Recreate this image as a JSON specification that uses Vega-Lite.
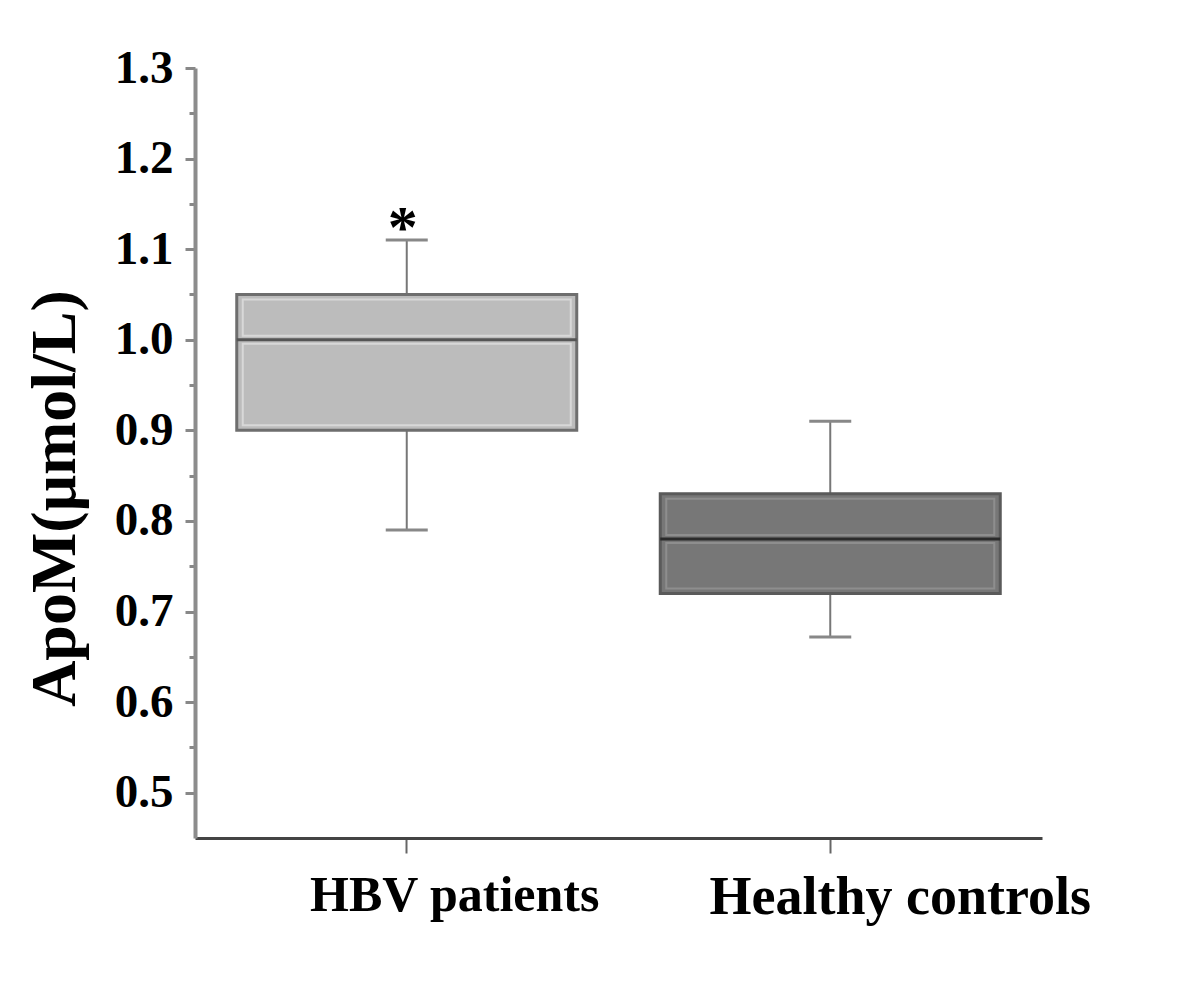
{
  "$schema": "https://vega.github.io/schema/vega-lite/v6.json",
  "width": 847,
  "height": 770,
  "autosize": {"type": "none"},
  "padding": {"left": 195, "top": 68, "right": 158, "bottom": 152},
  "background": "white",
  "config": {"view": {"stroke": null}, "font": "Liberation Serif"},
  "data": {
    "values": [
      {"group": "HBV patients", "lower": 0.79, "q1": 0.9, "median": 1.0, "q3": 1.05, "upper": 1.11, "star": "*"},
      {"group": "Healthy controls", "lower": 0.672, "q1": 0.72, "median": 0.78, "q3": 0.83, "upper": 0.91, "star": ""}
    ]
  },
  "encoding": {
    "x": {
      "field": "group",
      "type": "nominal",
      "sort": ["HBV patients", "Healthy controls"],
      "scale": {"paddingInner": 0, "paddingOuter": 0},
      "axis": {
        "title": null,
        "labelAngle": 0,
        "labelLimit": 0,
        "labelFont": "Liberation Serif",
        "labelFontWeight": "bold",
        "labelFontSize": {"condition": {"test": "datum.value == 'Healthy controls'", "value": 54}, "value": 50},
        "labelOffset": {"condition": {"test": "datum.value == 'Healthy controls'", "value": 70}, "value": 48},
        "labelColor": "#000000",
        "labelPadding": 17,
        "domainColor": "#444444",
        "domainWidth": 3,
        "tickColor": "#666666",
        "tickSize": 15,
        "tickWidth": 2
      }
    }
  },
  "layer": [
    {
      "mark": {"type": "rule", "color": "#777777", "strokeWidth": 2},
      "encoding": {
        "y": {
          "field": "lower",
          "type": "quantitative",
          "scale": {"domain": [0.45, 1.3], "nice": false, "zero": false},
          "axis": {
            "title": "ApoM(μmol/L)",
            "titleFont": "Liberation Serif",
            "titleFontWeight": "bold",
            "titleFontSize": 64,
            "titleColor": "#000000",
            "titleAngle": -90,
            "titleX": -140,
            "titleY": 430,
            "titleAlign": "center",
            "titleBaseline": "middle",
            "values": [0.5, 0.55, 0.6, 0.65, 0.7, 0.75, 0.8, 0.85, 0.9, 0.95, 1.0, 1.05, 1.1, 1.15, 1.2, 1.25, 1.3],
            "labelExpr": "abs(round(datum.value*10) - datum.value*10) < 0.001 ? format(datum.value, '.1f') : ''",
            "labelFont": "Liberation Serif",
            "labelFontWeight": "bold",
            "labelFontSize": 47,
            "labelColor": "#000000",
            "labelPadding": 12,
            "labelBaseline": "middle",
            "tickSize": {"condition": {"test": "abs(round(datum.value*10) - datum.value*10) < 0.001", "value": 10}, "value": 6},
            "tickColor": "#888888",
            "tickWidth": 3,
            "domainColor": "#8c8c8c",
            "domainWidth": 4,
            "grid": false
          }
        },
        "y2": {"field": "upper"}
      }
    },
    {
      "mark": {"type": "tick", "color": "#888888", "size": 42, "thickness": 3, "opacity": 1},
      "encoding": {"y": {"field": "upper", "type": "quantitative"}}
    },
    {
      "mark": {"type": "tick", "color": "#888888", "size": 42, "thickness": 3, "opacity": 1},
      "encoding": {"y": {"field": "lower", "type": "quantitative"}}
    },
    {
      "mark": {"type": "bar", "width": 340, "strokeWidth": 3},
      "encoding": {
        "y": {"field": "q3", "type": "quantitative"},
        "y2": {"field": "q1"},
        "fill": {"condition": {"test": "datum.group == 'HBV patients'", "value": "#bcbcbc"}, "value": "#777777"},
        "stroke": {"condition": {"test": "datum.group == 'HBV patients'", "value": "#6e6e6e"}, "value": "#5a5a5a"}
      }
    },
    {
      "mark": {"type": "bar", "width": 328, "fill": null, "fillOpacity": 0, "strokeWidth": 2, "yOffset": 5, "y2Offset": -4},
      "encoding": {
        "y": {"field": "q3", "type": "quantitative"},
        "y2": {"field": "median"},
        "stroke": {"condition": {"test": "datum.group == 'HBV patients'", "value": "#d8d8d8"}, "value": "#8e8e8e"}
      }
    },
    {
      "mark": {"type": "bar", "width": 328, "fill": null, "fillOpacity": 0, "strokeWidth": 2, "yOffset": 4, "y2Offset": -5},
      "encoding": {
        "y": {"field": "median", "type": "quantitative"},
        "y2": {"field": "q1"},
        "stroke": {"condition": {"test": "datum.group == 'HBV patients'", "value": "#d8d8d8"}, "value": "#8e8e8e"}
      }
    },
    {
      "mark": {"type": "tick", "size": 340, "thickness": 3, "opacity": 1},
      "encoding": {
        "y": {"field": "median", "type": "quantitative"},
        "color": {"condition": {"test": "datum.group == 'HBV patients'", "value": "#555555"}, "value": "#2a2a2a"}
      }
    },
    {
      "mark": {"type": "text", "fontSize": 60, "font": "Liberation Serif", "fontWeight": "bold", "color": "#000000", "baseline": "alphabetic", "dy": 7, "dx": -4},
      "encoding": {
        "y": {"field": "upper", "type": "quantitative"},
        "text": {"field": "star"}
      }
    }
  ]
}
